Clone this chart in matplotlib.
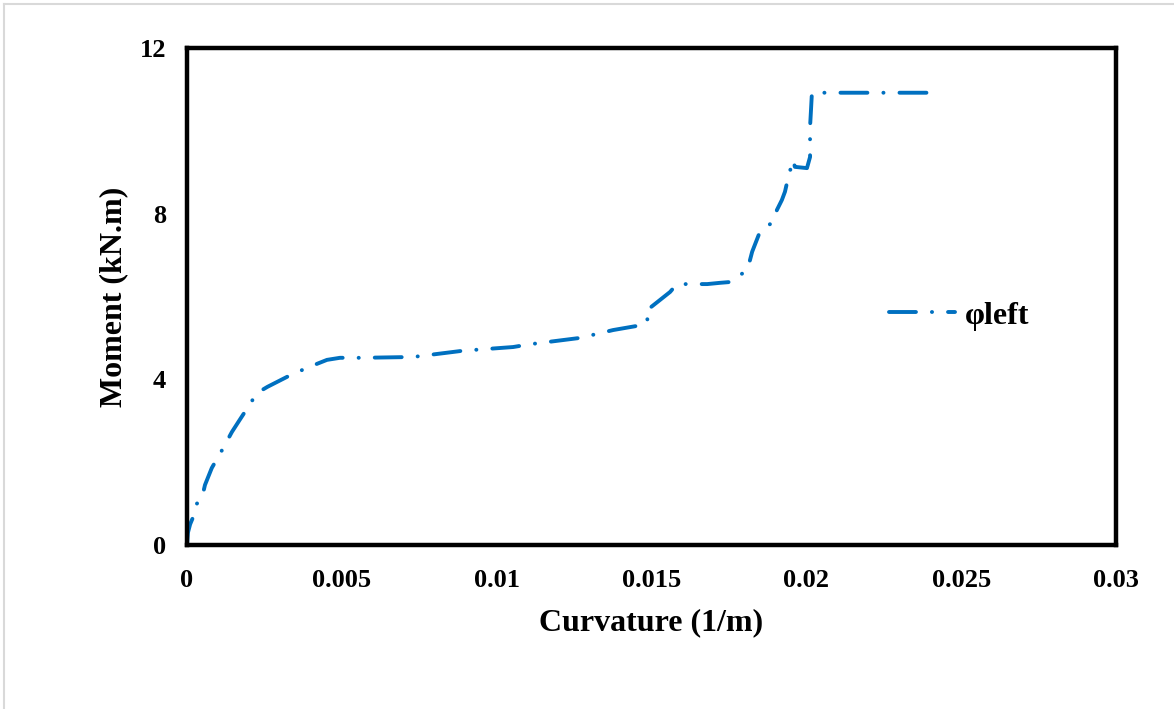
import matplotlib
matplotlib.use("Agg")
import matplotlib.pyplot as plt
from matplotlib.lines import Line2D

plt.rcParams['font.family'] = ['Liberation Serif', 'DejaVu Serif']
plt.rcParams['font.weight'] = 'bold'
plt.rcParams['lines.scale_dashes'] = False

# moment-curvature readings
curvature = [0.0, 0.00003, 0.0001, 0.0002, 0.00032, 0.00048, 0.00058, 0.0008,
             0.00113, 0.00145, 0.0017, 0.00197, 0.00226, 0.0026, 0.00323,
             0.00388, 0.00452, 0.00494, 0.00568, 0.0073, 0.0089, 0.01053,
             0.0111, 0.01269, 0.01376, 0.01453, 0.01489, 0.01479, 0.01528,
             0.0156, 0.01582, 0.0168, 0.01721, 0.01754, 0.01796, 0.01812,
             0.01818, 0.01825, 0.0185, 0.01892, 0.01905, 0.01921, 0.01931,
             0.01941, 0.01957, 0.01963, 0.02002, 0.02012, 0.02012, 0.02015,
             0.02018, 0.02083, 0.0239]
moment = [0.0, 0.3, 0.5, 0.68, 1.0, 1.13, 1.45, 1.86,
          2.29, 2.73, 3.02, 3.33, 3.67, 3.82, 4.06,
          4.28, 4.47, 4.52, 4.52, 4.54, 4.69, 4.78,
          4.85, 5.0, 5.19, 5.29, 5.39, 5.63, 5.92,
          6.11, 6.30, 6.30, 6.33, 6.35, 6.57, 6.69,
          6.88, 7.08, 7.56, 7.80, 8.09, 8.33, 8.53,
          8.86, 9.30, 9.13, 9.10, 9.37, 10.1, 10.5,
          10.92, 10.92, 10.92]

x_ticks = [0, 0.005, 0.01, 0.015, 0.02, 0.025, 0.03]
x_tick_labels = ['0', '0.005', '0.01', '0.015', '0.02', '0.025', '0.03']
y_ticks = [0, 4, 8, 12]
y_tick_labels = ['0', '4', '8', '12']

fig = plt.figure(figsize=(11.74, 7.09), dpi=100)
ax = fig.add_axes([0.1593, 0.2313, 0.7913, 0.701])

ax.plot(curvature, moment, color='#0070C0', linewidth=2.8,
        linestyle=(0, (19.4, 11.5, 0.1, 11.5)),
        dash_capstyle='round', solid_capstyle='round', label='φleft')

ax.set_xlim(0, 0.03)
ax.set_ylim(0, 12)
ax.set_xticks(x_ticks)
ax.set_xticklabels(x_tick_labels)
ax.set_yticks(y_ticks)
ax.set_yticklabels(y_tick_labels)
ax.tick_params(axis='x', length=0, labelsize=19, pad=17)
ax.tick_params(axis='y', length=0, labelsize=19, pad=15)

for s in ax.spines.values():
    s.set_linewidth(3.2)
    s.set_color('black')

ax.set_xlabel('Curvature (1/m)', fontsize=23, fontweight='bold', labelpad=12)
ax.set_ylabel('Moment (kN.m)', fontsize=23, fontweight='bold', labelpad=8)

ax.legend(loc='center left', bbox_to_anchor=(0.756, 0.461), frameon=False,
          fontsize=23, handlelength=2.05, handletextpad=0.3,
          borderpad=0, borderaxespad=0)

# light grey frame around the chart area
fig.add_artist(Line2D([0.0035, 0.0035], [0, 0.994], transform=fig.transFigure,
                      color='#d9d9d9', linewidth=1.5))
fig.add_artist(Line2D([0.0035, 1], [0.994, 0.994], transform=fig.transFigure,
                      color='#d9d9d9', linewidth=1.5))

fig.savefig('out.png', dpi=100)
